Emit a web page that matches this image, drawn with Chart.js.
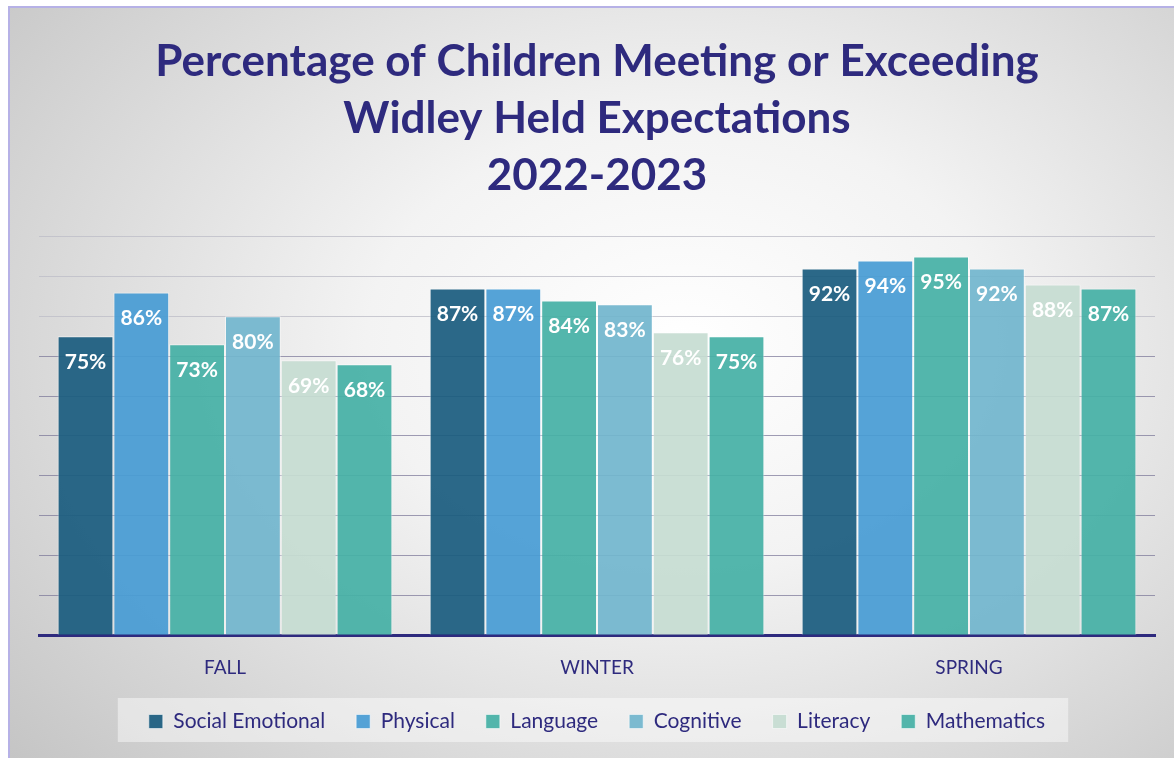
<!DOCTYPE html>
<html>
<head>
<meta charset="utf-8">
<script src="https://cdn.jsdelivr.net/npm/chart.js@4.4.1/dist/chart.umd.min.js"></script>
<style>
  html, body { margin: 0; padding: 0; background: #ffffff; overflow: hidden; }
  #frame {
    position: absolute; left: 8px; top: 6px; width: 1200px; height: 800px;
    border: 2px solid #b6b1e6;
    background: radial-gradient(ellipse 75% 80% at 56% 42%, #ffffff 0%, #f3f3f3 35%, #d6d6d6 75%, #c4c4c4 100%);
  }
  #wrap { position: absolute; left: 0; top: 0; width: 1174px; height: 758px; }
</style>
</head>
<body>
<div id="frame"></div>
<div id="wrap"><canvas id="chart" width="1174" height="758"></canvas></div>
<script>
// 期ごとの達成率
const seasons = ['FALL', 'WINTER', 'SPRING'];
const domains = ['Social Emotional', 'Physical', 'Language', 'Cognitive', 'Literacy', 'Mathematics'];

const socialEmotional = [75, 87, 92];
const physical = [86, 87, 94];
const language = [73, 84, 95];
const cognitive = [80, 83, 92];
const literacy = [69, 76, 88];
const mathematics = [68, 75, 87];

const titleLines = ['Percentage of Children Meeting or Exceeding', 'Widley Held Expectations', '2022-2023'];

const navy = '#2e2a7e';
const fills = ['rgba(27,92,127,0.93)', 'rgba(72,156,212,0.93)', 'rgba(70,176,166,0.93)',
               'rgba(114,182,206,0.93)', 'rgba(198,221,210,0.93)', 'rgba(70,176,166,0.93)'];

// 棒の中に値を書く
const valueLabels = {
    id: 'valueLabels',
    afterDatasetsDraw(chart) {
        const ctx = chart.ctx;
        ctx.save();
        ctx.fillStyle = '#ffffff';
        ctx.font = 'bold 21px Lato, "Open Sans", sans-serif';
        ctx.textAlign = 'center';
        ctx.textBaseline = 'middle';
        chart.data.datasets.forEach((ds, i) => {
            chart.getDatasetMeta(i).data.forEach((bar, j) => {
                ctx.fillText(ds.data[j] + '%', bar.x, bar.y + 26);
            });
        });
        ctx.restore();
    }
};

// 凡例の背景
const legendBack = {
    id: 'legendBack',
    beforeDraw(chart) {
        const lg = chart.legend;
        if (!lg || !lg.legendHitBoxes.length) return;
        const boxes = lg.legendHitBoxes;
        const left = Math.min(...boxes.map(b => b.left)) - 31;
        const right = Math.max(...boxes.map(b => b.left + b.width)) + 23;
        const ctx = chart.ctx;
        ctx.save();
        ctx.fillStyle = 'rgba(255,255,255,0.45)';
        ctx.fillRect(left, 698, right - left, 44);
        ctx.restore();
    }
};

const series = [socialEmotional, physical, language, cognitive, literacy, mathematics];

new Chart(document.getElementById('chart'), {
    type: 'bar',
    data: {
        labels: seasons,
        datasets: domains.map((name, i) => ({
            label: name,
            data: series[i],
            backgroundColor: fills[i],
            borderColor: 'rgba(255,255,255,0.55)',
            borderWidth: 1,
            categoryPercentage: 0.9,
            barPercentage: 1.0
        }))
    },
    options: {
        responsive: false,
        animation: false,
        events: [],
        layout: { padding: { left: 39, right: 19, top: 33, bottom: 16 } },
        plugins: {
            tooltip: { enabled: false },
            title: {
                display: true,
                text: titleLines,
                color: navy,
                font: { family: 'Lato, "Open Sans", sans-serif', size: 44, weight: 'bold', lineHeight: 1.3 },
                padding: { top: 0, bottom: 32 }
            },
            legend: {
                position: 'bottom',
                labels: {
                    color: navy,
                    font: { family: 'Lato, "Open Sans", sans-serif', size: 21 },
                    boxWidth: 14,
                    boxHeight: 14,
                    padding: 31
                }
            }
        },
        scales: {
            x: {
                grid: { display: false },
                border: { display: true, color: navy, width: 3 },
                ticks: { color: navy, font: { family: 'Lato, "Open Sans", sans-serif', size: 19 }, padding: 13 },
                // 凡例の上の余白に重ねる
                afterFit: scale => { scale.height -= 12; }
            },
            y: {
                min: 0,
                max: 100,
                ticks: { display: false, stepSize: 10 },
                border: { display: false },
                grid: {
                    drawTicks: false,
                    color: c => c.tick && c.tick.value >= 80 ? 'rgba(190,190,200,0.8)' : 'rgba(120,115,150,0.7)'
                }
            }
        }
    },
    plugins: [valueLabels, legendBack]
});
</script>
</body>
</html>
